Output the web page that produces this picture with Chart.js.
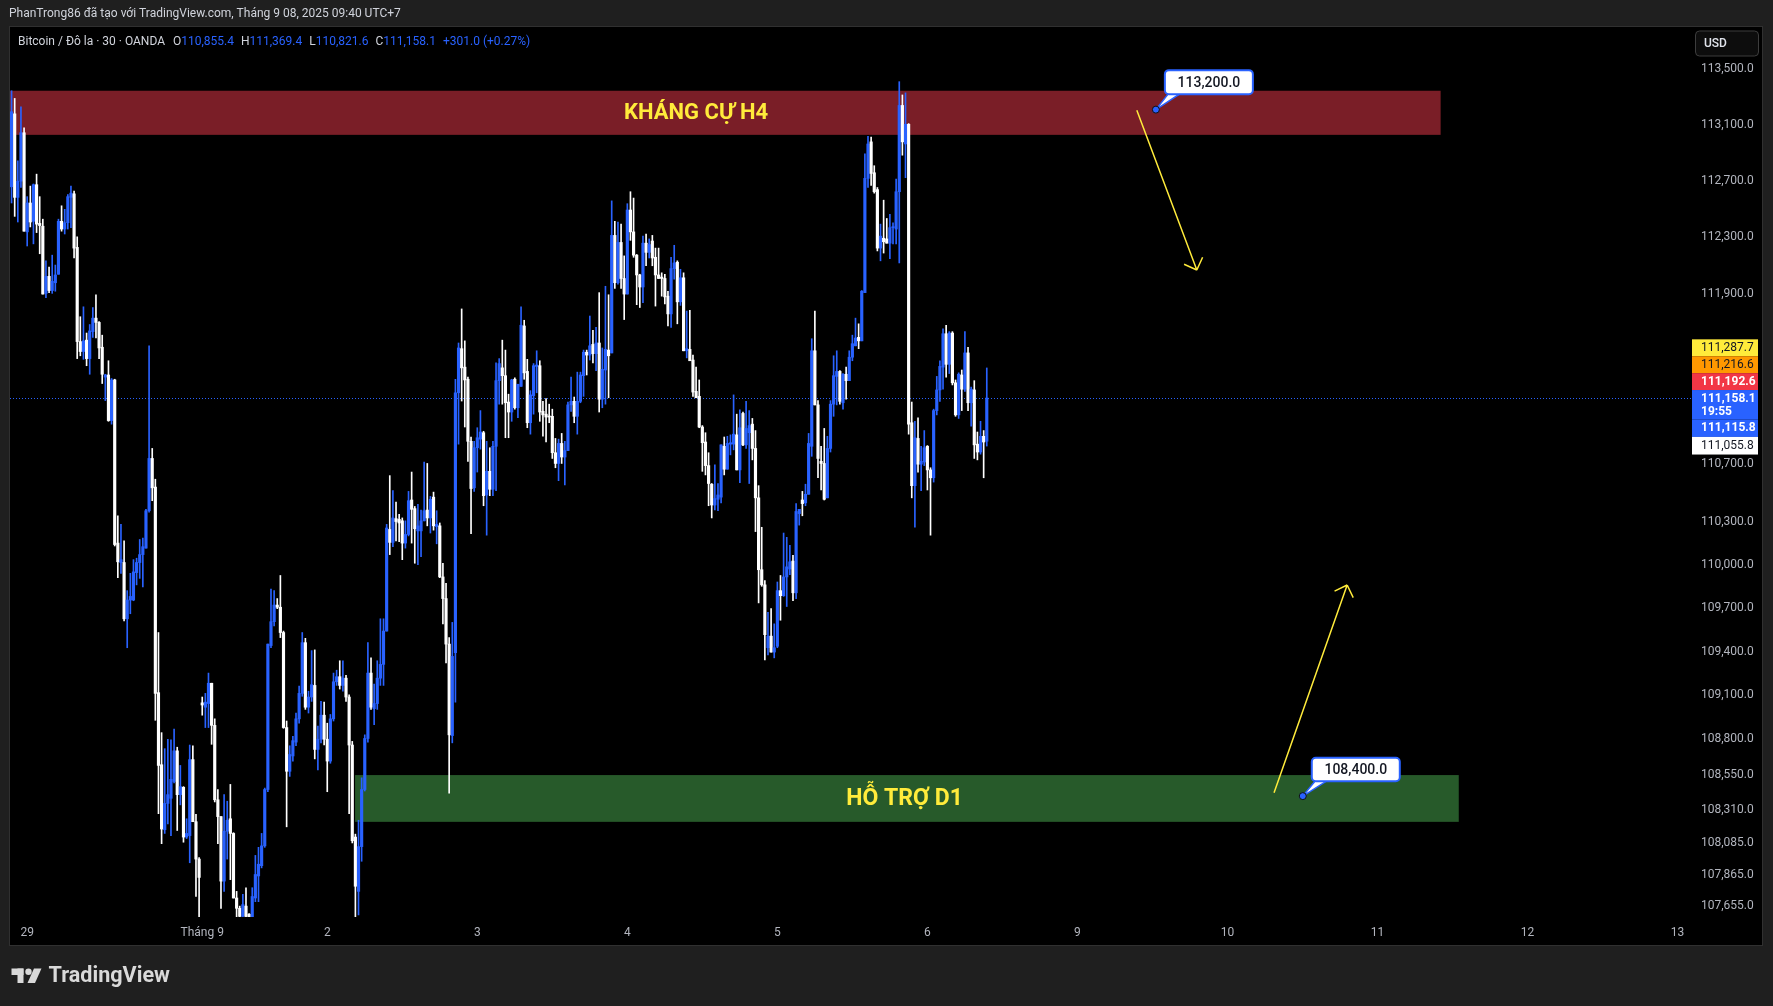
<!DOCTYPE html>
<html>
<head>
<meta charset="utf-8">
<title>BTCUSD 30 - OANDA</title>
<script src="https://cdn.jsdelivr.net/npm/chart.js@4.4.1/dist/chart.umd.min.js"></script>
<style>
  html, body { margin: 0; padding: 0; background: #1f1f1f; }
  canvas { display: block; }
</style>
</head>
<body>
<canvas id="btcChart" width="1773" height="1006"></canvas>
<script>
// Bitcoin / Đô la, nến 30 phút (OANDA)
const opens = [112650,113170,112575,112690,113035,112330,112535,112405,112665,112390,112370,111895,112015,111915,111970,112030,112405,112350,112395,112575,
  112600,112220,111555,111485,111565,111435,111625,111720,111690,111515,111305,111320,111000,111285,110145,110010,110010,109620,109750,109750,
  109940,110010,110065,110110,110370,110735,110535,109110,108615,108170,108350,108385,108500,108710,108410,108460,108120,108130,108650,108225,
  107970,109040,109010,109035,109175,108885,108375,108260,107820,108160,108245,108145,107705,107635,107580,107650,107595,107570,107705,107855,
  107925,108060,108445,109435,109600,109715,109700,109525,108870,108570,108675,108770,108930,109105,109455,109010,109080,109160,108720,108790,
  108955,108790,108640,108930,109185,109220,109160,109210,109080,108750,108120,107750,108055,108445,108795,109245,109000,109035,109210,109305,
  109535,110240,110150,110315,110310,110300,110145,110205,110445,110385,110230,110230,110300,110375,110320,110465,110260,110265,109910,109760,
  109445,108815,109385,111195,111505,111375,111290,110855,110530,110810,110870,110915,110480,110645,110520,110820,111280,111370,111315,111130,
  111060,111290,111090,111240,111665,111345,110985,111175,111380,111385,111065,111045,111030,111030,110775,110700,110840,110745,110790,111110,
  111135,111030,111135,111315,111480,111460,111535,111470,111545,111150,111355,111495,111475,112305,111970,112255,112000,111890,112485,112330,
  112165,112025,111940,112250,112185,112265,112150,112025,112010,112000,111875,111750,112070,112115,111835,112005,111490,111500,111425,111205,
  111170,110955,110850,110685,110555,110410,110450,110465,110820,110660,110835,110835,110900,110655,111050,110830,110915,110975,110805,110460,
  109960,109855,109420,109500,109390,109430,109815,109780,109910,109965,110020,109800,110350,110445,110425,110485,110820,111490,111110,110715,
  110700,110460,110805,111115,111310,111345,111125,111325,111280,111445,111525,111585,111560,111900,112710,112970,112750,112630,112215,112285,
  112280,112250,112360,112350,112615,113230,112955,113095,110985,110545,110875,110695,110710,110820,110655,110600,111070,111215,111375,111610,
  111395,111615,111265,111040,111320,111220,111475,111125,111215,110835,110780,110890,110855.4];
const highs = [113335,113280,112835,113220,113070,112580,112655,112670,112740,112580,112420,112125,112080,112165,112095,112420,112515,112490,112595,112655,
  112620,112295,111730,111800,111615,111675,111795,111885,111695,111600,111325,111420,111295,111290,110335,110275,110160,109815,109935,110030,
  110040,110170,110180,110380,111525,110805,110590,109525,108835,108725,108790,108785,108860,108735,108610,108465,108245,108750,108745,108275,
  107980,109080,109105,109245,109175,108930,108445,108260,108410,108365,108480,108150,107750,107650,107730,107775,107600,107775,107995,108050,
  108145,108455,109445,109825,109815,109760,109920,109535,108915,108745,108810,108970,109155,109525,109485,109120,109400,109405,108880,109050,
  109045,108900,108960,109245,109265,109330,109330,109230,109095,108775,108140,108235,108525,108820,109455,109350,109170,109330,109620,109620,
  110275,110615,110510,110430,110345,110320,110300,110505,110640,110400,110415,110375,110710,110700,110470,110500,110370,110285,110005,109865,
  109490,109595,111290,111545,111785,111560,111305,110885,110855,110950,111070,110925,110855,110810,110855,111405,111435,111565,111495,111185,
  111290,111300,111255,111800,111705,111430,111210,111400,111490,111420,111135,111155,111115,111080,110875,110870,110910,110855,111130,111305,
  111165,111340,111340,111495,111495,111735,111635,111655,111900,111510,111945,111885,112550,112405,112400,112385,112160,112530,112615,112570,
  112170,112030,112300,112315,112280,112305,112215,112215,112040,112030,111910,112150,112235,112125,112065,112040,111770,111775,111460,111375,
  111285,110965,110915,110775,110560,110690,110560,110830,110885,110890,110900,111180,111045,111075,111060,111135,111070,111015,110930,110545,
  110255,109885,109665,109690,109585,109875,109920,110215,110185,110130,110060,110420,110380,110505,110555,110910,111575,111770,111140,110820,
  110945,110890,111140,111455,111490,111350,111330,111375,111490,111600,111720,111680,111915,112885,113010,113005,112800,112645,112385,112555,
  112425,112455,112395,112705,113400,113305,113320,113100,111130,110995,111020,110820,110930,110825,110670,111080,111310,111420,111645,111670,
  111625,111625,111285,111335,111355,111625,111515,111235,111280,110920,110995,110930,111369.4];
const lows = [112535,112440,112400,112645,112335,112230,112365,112245,112325,112175,111890,111865,111900,111895,111910,112030,112335,112315,112350,112360,
  112145,111435,111455,111430,111385,111325,111585,111580,111435,111260,111140,110995,110975,110125,109905,109935,109605,109420,109655,109745,
  109855,109900,109840,110110,110360,110440,108920,108280,108075,108145,108210,108130,108490,108165,108340,108085,108110,107945,108225,107715,
  107565,108955,108870,108870,108755,108360,108075,107635,107750,107970,107830,107705,107565,107565,107565,107565,107565,107565,107680,107680,
  107910,108050,108430,109420,109570,109690,109490,108865,108190,108535,108640,108745,108900,109085,108995,108970,109050,108655,108580,108765,
  108750,108430,108625,108915,109160,109135,109120,109050,108280,108080,107565,107590,107955,108435,108770,108995,108890,108995,109160,109160,
  109535,110065,110120,110160,110155,110030,110110,110195,110145,110005,109995,110050,110300,110265,110215,110235,110140,109905,109585,109315,
  108420,108765,109045,110835,111137,110955,110715,110210,110505,110640,110800,110405,110200,110475,110475,110510,111115,111115,110880,110880,
  110995,111080,111020,111240,111290,110950,110905,111045,111195,110995,110890,110850,110985,110735,110670,110580,110700,110550,110790,111065,
  110985,110905,111125,111170,111320,111425,111405,111350,111060,111090,111115,111160,111475,111930,111960,111930,111710,111890,112270,112150,
  111815,111795,111830,112090,112145,112090,111805,112000,111875,111820,111665,111655,111995,111680,111810,111490,111440,111420,111170,111160,
  110950,110645,110620,110405,110320,110375,110370,110425,110620,110660,110760,110795,110655,110565,110825,110805,110560,110725,110225,109730,
  109845,109335,109370,109390,109350,109420,109610,109775,109705,109925,109745,109760,110270,110335,110405,110485,110750,111110,110600,110515,
  110445,110460,110780,111030,111110,111115,111080,111150,111280,111420,111525,111505,111560,111900,112645,112660,112605,112195,112125,112180,
  112250,112140,112245,112245,112110,112875,112715,110905,110460,110255,110640,110510,110685,110515,110200,110570,111040,111135,111220,111305,
  111330,111250,111030,111015,111070,111205,111070,110960,110735,110725,110765,110600,110821.6];
const closes = [113185,112575,112690,113035,112335,112535,112400,112665,112385,112375,111890,112015,111915,111980,112025,112405,112350,112395,112580,112605,
  112215,111555,111485,111560,111435,111630,111720,111690,111510,111325,111320,111000,111285,110135,110015,110030,109620,109750,109775,109945,
  110010,110065,110120,110370,110735,110530,109105,108610,108175,108350,108410,108515,108710,108410,108465,108120,108145,108650,108225,107970,
  107845,109025,109045,109175,108885,108375,108260,107820,108160,108235,108145,107705,107635,107580,107660,107580,107575,107715,107865,107935,
  108060,108445,109445,109600,109715,109700,109525,108870,108570,108685,108780,108930,109105,109455,109010,109080,109165,108720,108790,108955,
  108790,108640,108930,109185,109220,109160,109210,109080,108750,108095,107785,108055,108445,108795,109245,109010,109035,109210,109305,109535,
  110250,110150,110320,110295,110285,110145,110205,110440,110380,110245,110265,110300,110370,110320,110450,110265,110275,109910,109760,109445,
  108820,109360,111195,111510,111370,111285,110855,110525,110810,110880,110920,110475,110645,110520,110820,111280,111400,111315,111125,111060,
  111285,111090,111255,111670,111335,110985,111180,111385,111390,111060,111040,111025,111025,110775,110700,110840,110745,110790,111110,111135,
  111030,111135,111320,111480,111460,111525,111470,111545,111150,111360,111500,111455,112305,111970,112255,112000,111890,112485,112330,112165,
  112025,111940,112250,112185,112240,112145,112025,112000,112000,111870,111750,112070,112110,111835,112005,111490,111505,111420,111200,111160,
  110955,110845,110685,110560,110410,110455,110480,110830,110660,110840,110845,110905,110655,110950,110830,110945,110965,110805,110460,109960,
  109855,109510,109500,109390,109420,109815,109780,109910,109980,110015,109800,110365,110380,110420,110485,110840,111490,111110,110735,110700,
  110450,110805,111115,111315,111345,111135,111325,111280,111445,111540,111580,111560,111910,112710,112955,112745,112615,112215,112300,112260,
  112250,112360,112365,112615,113230,112970,113095,110975,110545,110880,110695,110715,110810,110655,110600,111070,111215,111380,111610,111395,
  111615,111265,111040,111325,111220,111475,111125,111220,110830,110780,110890,110850,111158.1];

// nhãn trục thời gian (chỉ số nến bắt đầu mỗi phiên)
const dayTickIdx = [5, 61, 101, 149, 197, 245, 293, 341, 389, 437, 485, 533];
const dayTickLabels = ['29', 'Tháng 9', '2', '3', '4', '5', '6', '9', '10', '11', '12', '13'];
// nhãn trục giá (thang log)
const priceTicks = [113500, 113100, 112700, 112300, 111900, 110700, 110300, 110000, 109700, 109400, 109100, 108800, 108550, 108310, 108085, 107865, 107655];
// các nhãn giá bên phải
const tagValues = [111287.7, 111216.6, 111192.6, 111158.1, 111115.8, 111055.8];
// vùng cản / hỗ trợ và mốc giá
const resistanceZone = [113020, 113335];
const supportZone = [108224, 108544];
const calloutPrices = [113200, 108400];

const FONT = 'Roboto, "Liberation Sans", sans-serif';
const BLUE = '#2962ff';
const TXT = '#d1d4dc';
const YELLOW = '#ffeb3b';

const fmt = v => v.toLocaleString('en-US', { minimumFractionDigits: 1, maximumFractionDigits: 1 });
const last = closes.length - 1;

// vị trí vẽ (đơn vị: chỉ số nến trên trục x)
const drawings = {
  resistance: { x0: -5, x1: 457.2, fill: '#7a1e27', label: 'KHÁNG CỰ H4', labelX: 219, size: 22 },
  support: { x0: 109.9, x1: 463, fill: '#275a2a', label: 'HỖ TRỢ D1', labelX: 285.7, size: 23 },
  callouts: [{ x: 366.1, dx: 9, dy: -39.5, w: 88, h: 24 }, { x: 413.1, dx: 9, dy: -38.3, w: 88, h: 23.5 }],
  arrows: [
    { x0: 360.0, y0: 113195, x1: 379.2, y1: 112060 },
    { x0: 403.9, y0: 108423, x1: 427.3, y1: 109854 }
  ]
};

function xy(chart, xv, yv) {
  return { x: chart.scales.x.getPixelForValue(xv), y: chart.scales.y.getPixelForValue(yv) };
}

const framePlugin = {
  id: 'frame',
  beforeDraw(chart) {
    const ctx = chart.ctx;
    ctx.save();
    ctx.fillStyle = '#1f1f1f';
    ctx.fillRect(0, 0, chart.width, chart.height);
    ctx.fillStyle = '#000000';
    ctx.fillRect(10, 27, 1752, 918);
    ctx.strokeStyle = '#303030';
    ctx.lineWidth = 1;
    ctx.strokeRect(9.5, 26.5, 1753, 919);

    ctx.font = '12px ' + FONT;
    ctx.fillStyle = TXT;
    ctx.textBaseline = 'middle';
    ctx.fillText('PhanTrong86 đã tạo với TradingView.com, Tháng 9 08, 2025 09:40 UTC+7', 9, 14);
    ctx.restore();
  },
  beforeDatasetsDraw(chart) {
    const ctx = chart.ctx;
    const a = chart.chartArea;
    ctx.save();
    ctx.beginPath();
    ctx.rect(a.left, a.top, a.right - a.left, a.bottom - a.top);
    ctx.clip();

    [[drawings.resistance, resistanceZone], [drawings.support, supportZone]].forEach(([d, z]) => {
      const p0 = xy(chart, d.x0, z[1]);
      const p1 = xy(chart, d.x1, z[0]);
      ctx.fillStyle = d.fill;
      ctx.fillRect(p0.x, p0.y, p1.x - p0.x, p1.y - p0.y);
      const t = xy(chart, d.labelX, (z[0] + z[1]) / 2);
      ctx.font = 'bold ' + d.size + 'px ' + FONT;
      ctx.fillStyle = YELLOW;
      ctx.textAlign = 'center';
      ctx.textBaseline = 'middle';
      ctx.fillText(d.label, t.x, t.y + 1);
    });

    // đường giá hiện tại
    const py = chart.scales.y.getPixelForValue(closes[last]);
    ctx.strokeStyle = BLUE;
    ctx.lineWidth = 1;
    ctx.setLineDash([1, 2]);
    ctx.beginPath();
    ctx.moveTo(a.left, Math.round(py) + 0.5);
    ctx.lineTo(a.right, Math.round(py) + 0.5);
    ctx.stroke();
    ctx.restore();
  },
  afterDatasetsDraw(chart) {
    const ctx = chart.ctx;
    ctx.save();
    // mũi tên vàng
    drawings.arrows.forEach(ar => {
      const s = xy(chart, ar.x0, ar.y0);
      const e = xy(chart, ar.x1, ar.y1);
      ctx.strokeStyle = YELLOW;
      ctx.lineWidth = 1.5;
      ctx.beginPath();
      ctx.moveTo(s.x, s.y);
      ctx.lineTo(e.x, e.y);
      const ang = Math.atan2(s.y - e.y, s.x - e.x);
      [Math.PI / 4, -Math.PI / 4].forEach(off => {
        ctx.moveTo(e.x, e.y);
        ctx.lineTo(e.x + 14 * Math.cos(ang + off), e.y + 14 * Math.sin(ang + off));
      });
      ctx.stroke();
    });

    // nhãn giá 113,200 / 108,400
    drawings.callouts.forEach((c, i) => {
      const d = xy(chart, c.x, calloutPrices[i]);
      const bx = d.x + c.dx, by = d.y + c.dy;
      ctx.beginPath();
      ctx.moveTo(bx + 4, by + c.h - 1);
      ctx.lineTo(d.x, d.y);
      ctx.lineTo(bx + 16, by + c.h - 1);
      ctx.closePath();
      ctx.fillStyle = '#ffffff';
      ctx.fill();
      ctx.strokeStyle = BLUE;
      ctx.lineWidth = 1.5;
      ctx.stroke();
      ctx.beginPath();
      ctx.roundRect(bx, by, c.w, c.h, 4);
      ctx.fillStyle = '#ffffff';
      ctx.fill();
      ctx.lineWidth = 2;
      ctx.stroke();
      ctx.fillStyle = '#131722';
      ctx.font = '500 14px ' + FONT;
      ctx.textAlign = 'center';
      ctx.textBaseline = 'middle';
      ctx.fillText(fmt(calloutPrices[i]), bx + c.w / 2, by + c.h / 2 + 1);
      ctx.beginPath();
      ctx.arc(d.x, d.y, 3.5, 0, Math.PI * 2);
      ctx.fillStyle = BLUE;
      ctx.fill();
      ctx.strokeStyle = '#101010';
      ctx.lineWidth = 1;
      ctx.stroke();
    });
    ctx.restore();
  },
  afterDraw(chart) {
    const ctx = chart.ctx;
    ctx.save();
    ctx.textBaseline = 'middle';

    // chú giải OHLC
    ctx.font = '12px ' + FONT;
    let x = 18;
    const parts = [
      ['Bitcoin / Đô la · 30 · OANDA', TXT, 8],
      ['O', TXT, 0], [fmt(opens[last]), BLUE, 7],
      ['H', TXT, 0], [fmt(highs[last]), BLUE, 7],
      ['L', TXT, 0], [fmt(lows[last]), BLUE, 7],
      ['C', TXT, 0], [fmt(closes[last]), BLUE, 7],
      ['+301.0 (+0.27%)', BLUE, 0]
    ];
    parts.forEach(([t, col, gap]) => {
      ctx.fillStyle = col;
      ctx.fillText(t, x, 42);
      x += ctx.measureText(t).width + gap;
    });

    // nút USD
    ctx.beginPath();
    ctx.roundRect(1695.5, 31, 63, 25, 4);
    ctx.fillStyle = '#0d0d0d';
    ctx.fill();
    ctx.strokeStyle = '#3d3d3d';
    ctx.lineWidth = 1;
    ctx.stroke();
    ctx.fillStyle = '#e0e3eb';
    ctx.font = '500 12px ' + FONT;
    ctx.fillText('USD', 1704, 44);

    // nhãn giá trên trục phải
    const base = chart.scales.y.getPixelForValue(closes[last]);
    const styles = [
      { bg: '#ffeb3b', fg: '#131722', bold: false, h: 16.9 },
      { bg: '#ff9800', fg: '#131722', bold: false, h: 16.9 },
      { bg: '#f23645', fg: '#ffffff', bold: true, h: 16.9 },
      { bg: BLUE, fg: '#ffffff', bold: true, h: 29.3, sub: '19:55' },
      { bg: BLUE, fg: '#ffffff', bold: true, h: 17.6 },
      { bg: '#ffffff', fg: '#131722', bold: false, h: 17.6 }
    ];
    let top = base - 8 - 3 * 16.9;
    tagValues.forEach((v, i) => {
      const st = styles[i];
      ctx.fillStyle = st.bg;
      ctx.fillRect(1692, top, 66, st.h);
      ctx.fillStyle = st.fg;
      ctx.font = (st.bold ? 'bold ' : '') + '12px ' + FONT;
      ctx.fillText(fmt(v), 1701, top + 8.6);
      if (st.sub) ctx.fillText(st.sub, 1701, top + 22);
      top += st.h;
    });

    // logo TradingView
    ctx.fillStyle = '#d9d9d9';
    ctx.fillRect(11.5, 968.5, 12, 6.5);
    ctx.fillRect(17.5, 968.5, 6, 14.5);
    ctx.beginPath();
    ctx.arc(28.5, 971.8, 3.2, 0, Math.PI * 2);
    ctx.fill();
    ctx.beginPath();
    ctx.moveTo(34, 968.5);
    ctx.lineTo(41.5, 968.5);
    ctx.lineTo(35, 983);
    ctx.lineTo(27.5, 983);
    ctx.closePath();
    ctx.fill();
    ctx.font = 'bold 21.6px ' + FONT;
    ctx.fillText('TradingView', 48.5, 977);
    ctx.restore();
  }
};

const idx = closes.map((_, i) => i);
const candleColors = closes.map((c, i) => (c >= opens[i] ? BLUE : '#ffffff'));

new Chart(document.getElementById('btcChart'), {
  type: 'bar',
  data: {
    datasets: [
      {
        label: 'Wick',
        data: idx.map(i => ({ x: i, y: [lows[i], highs[i]] })),
        backgroundColor: candleColors,
        barThickness: 1,
        grouped: false,
        order: 2,
        borderWidth: 0
      },
      {
        label: 'Body',
        data: idx.map(i => ({ x: i, y: [opens[i], closes[i]] })),
        backgroundColor: candleColors,
        barThickness: 2.5,
        minBarLength: 1,
        grouped: false,
        order: 1,
        borderWidth: 0
      }
    ]
  },
  options: {
    responsive: false,
    animation: false,
    events: [],
    layout: { padding: { left: 10, top: 27, right: 11, bottom: 61 } },
    plugins: { legend: { display: false }, tooltip: { enabled: false } },
    scales: {
      x: {
        type: 'linear',
        min: -0.5,
        max: 537.62,
        bounds: 'data',
        offset: false,
        grid: { display: false, drawTicks: false, offset: false },
        border: { display: false },
        afterBuildTicks: s => { s.ticks = dayTickIdx.map(v => ({ value: v })); },
        afterFit: s => { s.height = 28; },
        ticks: {
          autoSkip: false,
          maxRotation: 0,
          padding: 9,
          color: '#b2b5be',
          font: { family: FONT, size: 12 },
          callback: v => dayTickLabels[dayTickIdx.indexOf(v)] || ''
        }
      },
      y: {
        type: 'logarithmic',
        position: 'right',
        min: 107576,
        max: 113792,
        bounds: 'data',
        beginAtZero: false,
        grid: { display: false, drawTicks: false },
        border: { display: false },
        afterBuildTicks: s => { s.ticks = priceTicks.map(v => ({ value: v })); },
        afterFit: s => { s.width = 70; },
        ticks: {
          autoSkip: false,
          padding: 9,
          labelOffset: 1,
          color: '#b2b5be',
          font: { family: FONT, size: 12 },
          callback: v => fmt(v)
        }
      }
    }
  },
  plugins: [framePlugin]
});
</script>
</body>
</html>
